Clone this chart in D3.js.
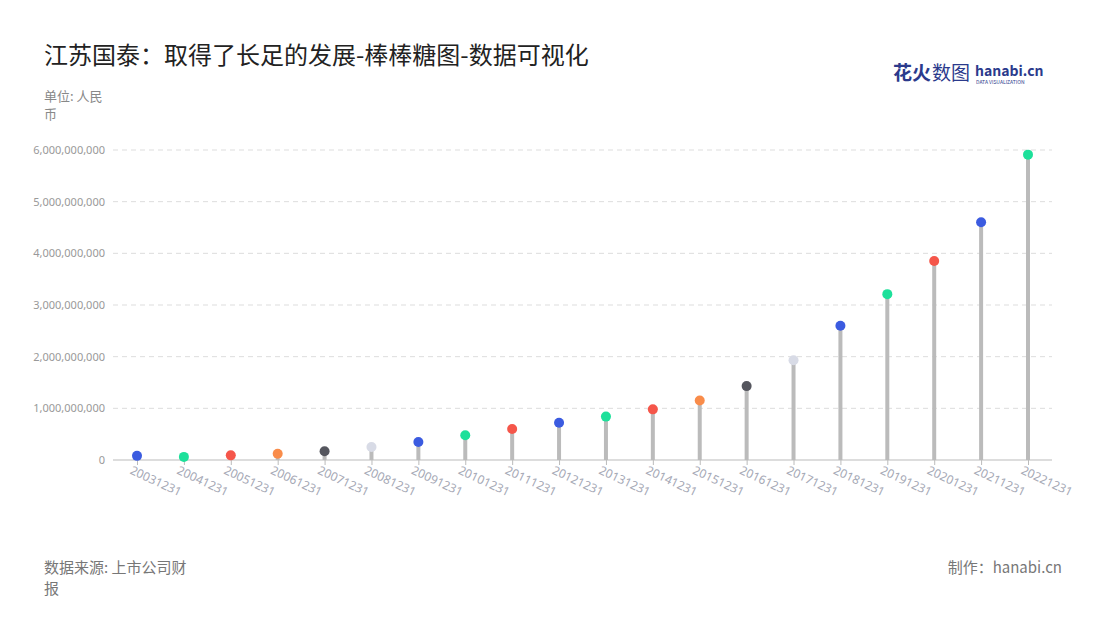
<!DOCTYPE html>
<html><head><meta charset="utf-8">
<script src="https://cdn.jsdelivr.net/npm/d3@7/dist/d3.min.js"></script>
<style>body{margin:0;background:#fff;font-family:"Noto Sans CJK SC","Noto Sans",sans-serif}</style>
</head><body><svg id="c" width="1100" height="620"></svg>
<script>
var years = ["20031231","20041231","20051231","20061231","20071231","20081231","20091231","20101231","20111231","20121231",
             "20131231","20141231","20151231","20161231","20171231","20181231","20191231","20201231","20211231","20221231"];
var values = [80e6,60e6,90e6,120e6,170e6,250e6,350e6,480e6,600e6,720e6,
              840e6,980e6,1150e6,1430e6,1930e6,2600e6,3210e6,3850e6,4600e6,5910e6];
var yTicks = [0,1e9,2e9,3e9,4e9,5e9,6e9];
var palette = ["#3b5be0","#1de09a","#f5564a","#f98c4a","#55565e","#d8dbe6"];
var colorIdx = [0,1,2,3,4,5,0,1,2,0,1,2,3,4,5,0,1,2,0,1];

var svg = d3.select("#c");
var x = d3.scalePoint().domain(years).range([137,1028]);
var y = d3.scaleLinear().domain([0,6e9]).range([460,150]);

svg.append("text").attr("x",44).attr("y",64).attr("font-size",24).attr("fill","#222")
  .text("江苏国泰：取得了长足的发展-棒棒糖图-数据可视化");
svg.append("text").attr("x",44).attr("y",101).attr("font-size",13).attr("fill","#888").text("单位: 人民");
svg.append("text").attr("x",44).attr("y",119).attr("font-size",13).attr("fill","#888").text("币");

// logo
svg.append("text").attr("x",893).attr("y",80).attr("font-size",19).attr("font-weight","bold").attr("fill","#2b3a8c").text("花火");
svg.append("text").attr("x",932).attr("y",80).attr("font-size",19).attr("fill","#2b3a8c").text("数图");
svg.append("text").attr("x",975).attr("y",76).attr("font-size",14).attr("font-weight","bold").attr("fill","#2b3a8c").text("hanabi.cn");
svg.append("text").attr("x",976).attr("y",84).attr("font-size",5).attr("fill","#2b3a8c").text("DATA VISUALIZATION");

var yAxis = svg.append("g").attr("transform","translate(113,0)")
  .call(d3.axisLeft(y).tickValues(yTicks).tickFormat(d3.format(",")).tickSize(0).tickPadding(8));
yAxis.select(".domain").remove();
yAxis.selectAll("text").attr("fill","#999").attr("font-size",11).attr("font-family","Noto Sans");
svg.append("g").selectAll("line").data(yTicks.slice(1)).join("line")
  .attr("x1",113).attr("x2",1052).attr("y1",y).attr("y2",y)
  .attr("stroke","#ddd").attr("stroke-dasharray","5,4");

var xAxis = svg.append("g").attr("transform","translate(0,460)")
  .call(d3.axisBottom(x).tickSize(5).tickPadding(4));
xAxis.select(".domain").attr("d","M113,0H1052").attr("stroke","#bbb");
xAxis.selectAll("line").attr("stroke","#bbb");
xAxis.selectAll("text").attr("fill","#a5a8b5").attr("font-size",12).attr("font-family","Noto Sans")
  .attr("text-anchor","start").attr("transform","rotate(25) translate(-2,-2)");

svg.append("g").selectAll("line").data(values).join("line")
  .attr("x1",(d,i)=>x(years[i])).attr("x2",(d,i)=>x(years[i]))
  .attr("y1",y(0)).attr("y2",d=>y(d)).attr("stroke","#bbb").attr("stroke-width",4);
svg.append("g").selectAll("circle").data(values).join("circle")
  .attr("cx",(d,i)=>x(years[i])).attr("cy",d=>y(d)).attr("r",5)
  .attr("fill",(d,i)=>palette[colorIdx[i]]);

svg.append("text").attr("x",44).attr("y",573).attr("font-size",15).attr("fill","#777").text("数据来源: 上市公司财");
svg.append("text").attr("x",44).attr("y",594).attr("font-size",15).attr("fill","#777").text("报");
svg.append("text").attr("x",1062).attr("y",573).attr("font-size",15).attr("fill","#777").attr("text-anchor","end").text("制作：hanabi.cn");
</script></body></html>
